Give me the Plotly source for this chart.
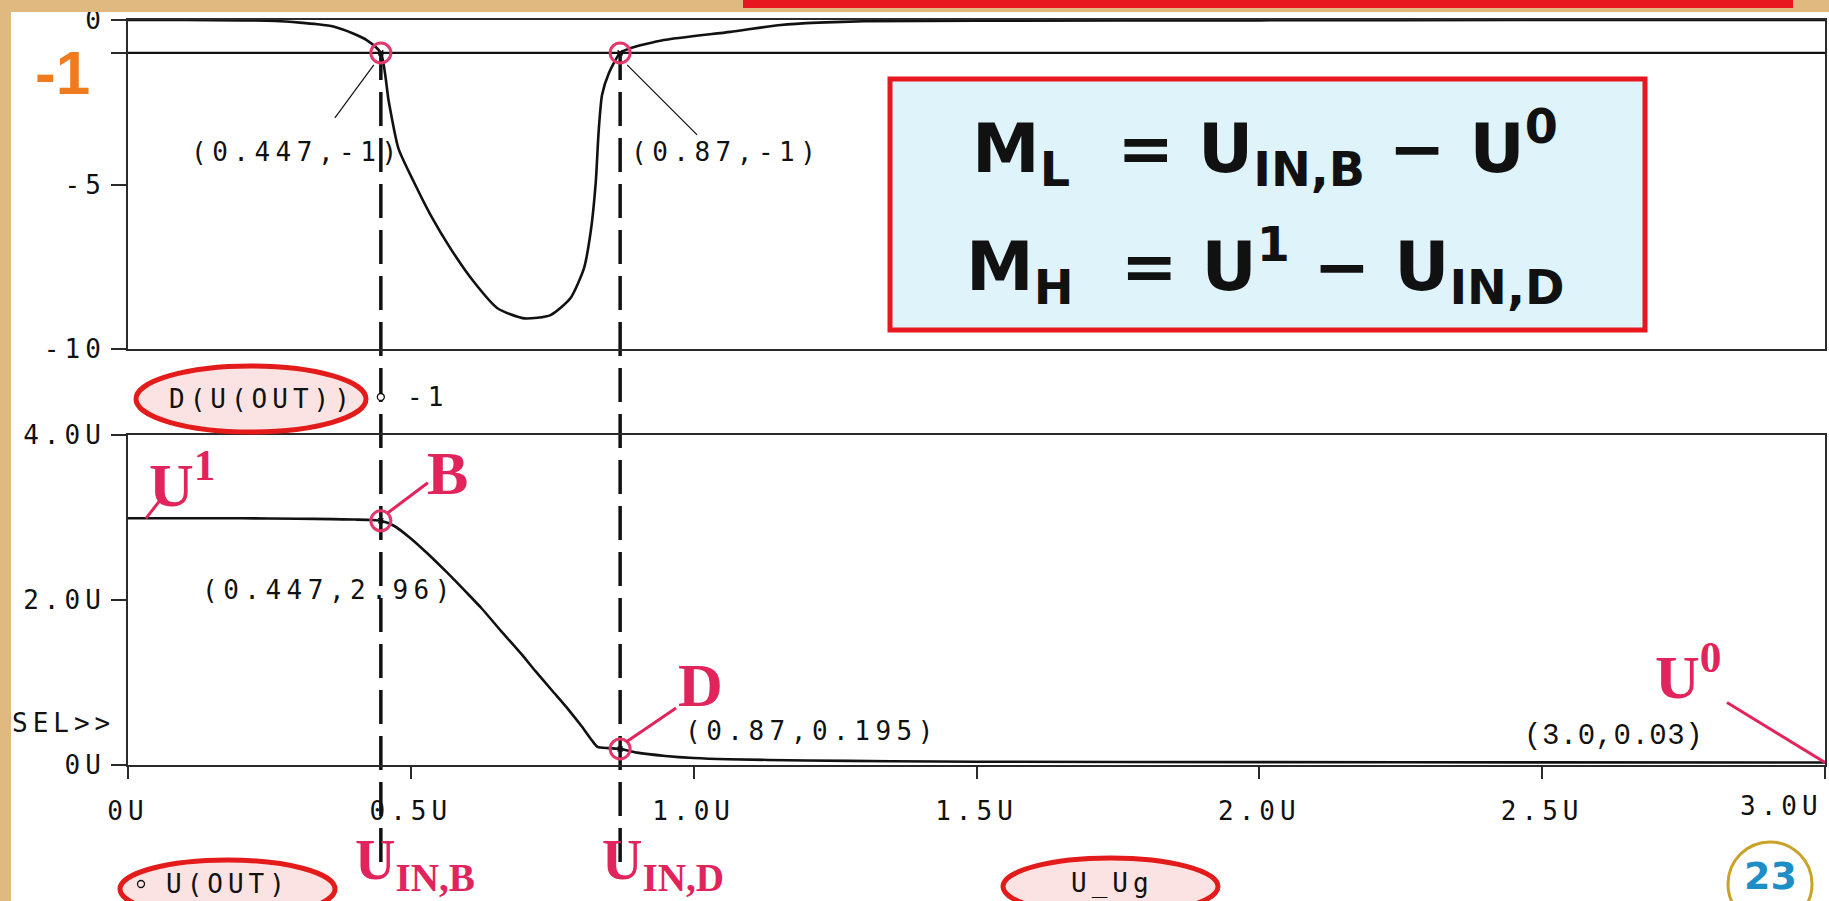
import plotly.graph_objects as go

W, H = 1829, 901

# ---- sweep data: gate voltage V_Vg (V) ----
vg_out = [0, 0.1, 0.2, 0.3, 0.36, 0.4, 0.43, 0.447, 0.47, 0.501, 0.53, 0.563, 0.6, 0.625,
          0.66, 0.696, 0.72, 0.75, 0.78, 0.803, 0.82, 0.83, 0.85, 0.87, 0.9, 0.95, 1.0,
          1.06, 1.2, 1.35, 1.5, 2.0, 2.5, 3.0]
v_out = [2.99, 2.99, 2.99, 2.985, 2.98, 2.975, 2.97, 2.96, 2.90, 2.74, 2.56, 2.34, 2.08, 1.90,
         1.62, 1.34, 1.14, 0.90, 0.66, 0.46, 0.30, 0.22, 0.205, 0.195, 0.15, 0.11, 0.085,
         0.07, 0.055, 0.045, 0.04, 0.035, 0.032, 0.03]

vg_der = [0, 0.1, 0.2, 0.26, 0.304, 0.335, 0.363, 0.398, 0.422, 0.447, 0.461, 0.478, 0.505,
          0.535, 0.570, 0.611, 0.653, 0.700, 0.747, 0.782, 0.806, 0.818, 0.827, 0.832, 0.838,
          0.850, 0.870, 0.888, 0.947, 1.065, 1.154, 1.22, 1.3, 1.5, 2.0, 2.5, 3.0]
dv_out = [0, 0, -0.01, -0.03, -0.08, -0.13, -0.2, -0.41, -0.61, -1.0, -2.48, -3.9, -4.91,
          -5.93, -6.94, -7.95, -8.76, -9.07, -8.97, -8.46, -7.55, -6.43, -4.91, -3.39, -2.28,
          -1.62, -1.0, -0.86, -0.61, -0.36, -0.15, -0.08, -0.04, -0.02, -0.01, 0, 0]

ref_level = -1                      # constant trace "-1"
cursor_x = [0.447, 0.87]            # U_IN,B and U_IN,D
cursor_dv = [-1, -1]
cursor_v = [2.96, 0.195]
end_point = [3.0, 0.03]             # U0

x_ticks = [0, 0.5, 1.0, 1.5, 2.0, 2.5, 3.0]
x_tick_text = ['0U', '0.5U', '1.0U', '1.5U', '2.0U', '2.5U', '3.0U']
top_ticks = [0, -1, -5, -10]
top_tick_text = ['0', '', '-5', '-10']
bot_ticks = [0, 2, 4]
bot_tick_text = ['0U', '2.0U', '4.0U']

# ---- styling ----
INK = '#111111'
CRIMSON = '#E1245C'
MARK_RED = '#E2386C'
BOX_RED = '#E8161E'
TAN = '#DFB97F'
ELL_FILL = '#FCE3E3'
ELL_LINE = '#E41B1B'
FORMULA_BG = '#DEF4FA'
MONO = 'DejaVu Sans Mono'
SERIF = 'Liberation Serif'
MONO_SIZE = 26


def px(x):
    return x / W


def py(y):
    return 1 - y / H


def ps(s, sp=5, size=MONO_SIZE):
    # PSpice-style widely spaced monospace text
    return f'<span style="letter-spacing:{sp}px;font-size:{size}px">{s}</span>'


def num(v):
    return f'{v:g}'


X_DOM = [px(128), px(1825)]
TOP_DOM = [py(349), py(20)]
BOT_DOM = [py(765), py(435)]
TOP_RANGE = [-10, 0]
BOT_RANGE = [0, 4]

fig = go.Figure()

curve_line = dict(color=INK, width=2.6, shape='spline', smoothing=0.6)

# D(V(OUT)) and the -1 reference line
fig.add_trace(go.Scatter(x=vg_der, y=dv_out, xaxis='x', yaxis='y', mode='lines',
                         line=curve_line, hoverinfo='skip'))
fig.add_trace(go.Scatter(x=[x_ticks[0], x_ticks[-1]], y=[ref_level, ref_level],
                         xaxis='x', yaxis='y', mode='lines',
                         line=dict(color=INK, width=2.2), hoverinfo='skip'))
# V(OUT)
fig.add_trace(go.Scatter(x=vg_out, y=v_out, xaxis='x2', yaxis='y2', mode='lines',
                         line=curve_line, hoverinfo='skip'))

# cursor markers
for xa, ya, yv in (('x', 'y', cursor_dv), ('x2', 'y2', cursor_v)):
    fig.add_trace(go.Scatter(x=cursor_x, y=yv, xaxis=xa, yaxis=ya, mode='markers',
                             marker=dict(symbol='circle-open', size=20, color=MARK_RED,
                                         line=dict(width=3, color=MARK_RED)),
                             hoverinfo='skip'))
    fig.add_trace(go.Scatter(x=cursor_x, y=yv, xaxis=xa, yaxis=ya, mode='markers',
                             marker=dict(symbol='x-thin-open', size=5, color=INK,
                                         line=dict(width=1.5, color=INK)),
                             hoverinfo='skip'))

shapes = []
annotations = []

# dashed cursor lines from the -1 crossing down below the axis
y_minus1 = TOP_DOM[0] + (TOP_DOM[1] - TOP_DOM[0]) * (ref_level - TOP_RANGE[0]) / (TOP_RANGE[1] - TOP_RANGE[0])
for cx in cursor_x:
    shapes.append(dict(type='line', xref='x2', yref='paper', x0=cx, x1=cx,
                       y0=py(862), y1=y_minus1, layer='below',
                       line=dict(color=INK, width=3.5, dash='34px,12px')))


def leader(xref, yref, ax, ay, p0, p1, color, width):
    shapes.append(dict(type='line', xref=xref, yref=yref, xsizemode='pixel', ysizemode='pixel',
                       xanchor=ax, yanchor=ay, x0=p0[0], y0=p0[1], x1=p1[0], y1=p1[1],
                       line=dict(color=color, width=width)))


def coord_label(xref, yref, x, y, text, dx, dy, family=MONO, size=MONO_SIZE, sp=5.5):
    annotations.append(dict(xref=xref, yref=yref, x=x, y=y, xshift=dx, yshift=dy,
                            text=ps(text, sp, size), showarrow=False, xanchor='center',
                            yanchor='middle', font=dict(family=family, size=size, color=INK)))


# cursor readouts
coord_label('x', 'y', cursor_x[0], cursor_dv[0], f'({num(cursor_x[0])},{num(cursor_dv[0])})', -84, -99)
coord_label('x', 'y', cursor_x[1], cursor_dv[1], f'({num(cursor_x[1])},{num(cursor_dv[1])})', 106, -99)
coord_label('x2', 'y2', cursor_x[0], cursor_v[0], f'({num(cursor_x[0])},{num(cursor_v[0])})', -52, -69)
coord_label('x2', 'y2', cursor_x[1], cursor_v[1], f'({num(cursor_x[1])},{num(cursor_v[1])})', 192, 18)
coord_label('x2', 'y2', end_point[0], end_point[1], f'({end_point[0]:.1f},{num(end_point[1])})',
            -212, 26, family='Liberation Mono', size=29, sp=0.5)

leader('x', 'y', cursor_x[0], cursor_dv[0], (-7, -12), (-46, -65), INK, 1.2)
leader('x', 'y', cursor_x[1], cursor_dv[1], (7, -12), (77, -82), INK, 1.2)


# red point names
def red_text(xref, yref, x, y, text, dx, dy, size=62, xanchor='center'):
    annotations.append(dict(xref=xref, yref=yref, x=x, y=y, xshift=dx, yshift=dy,
                            text=f'<b>{text}</b>', showarrow=False, xanchor=xanchor, yanchor='middle',
                            font=dict(family=SERIF, size=size, color=CRIMSON)))


red_text('x2', 'y2', cursor_x[0], cursor_v[0], 'B', 67, 48)
red_text('x2', 'y2', cursor_x[1], cursor_v[1], 'D', 80, 64)
red_text('x2', 'y2', vg_out[0], v_out[0], 'U<sup>1</sup>', 19, 38, xanchor='left')
red_text('x2', 'y2', end_point[0], end_point[1], 'U<sup>0</sup>', -172, 91, xanchor='left')
leader('x2', 'y2', cursor_x[0], cursor_v[0], (7, 8), (47, 38), CRIMSON, 3)
leader('x2', 'y2', cursor_x[1], cursor_v[1], (6, 7), (56, 41), CRIMSON, 3)
leader('x2', 'y2', vg_out[0], v_out[0], (18, 0), (32, 18), CRIMSON, 3)
leader('x2', 'y2', end_point[0], end_point[1], (-98, 60), (0, 0), CRIMSON, 3)

for cx, name, dx in ((cursor_x[0], 'U<sub>IN,B</sub>', -28), (cursor_x[1], 'U<sub>IN,D</sub>', -20)):
    annotations.append(dict(xref='x2', yref='paper', x=cx, y=py(864), xshift=dx,
                            text=f'<b>{name}</b>', showarrow=False, xanchor='left', yanchor='middle',
                            font=dict(family=SERIF, size=56, color=CRIMSON)))


# trace name ellipses
def ellipse(x0, x1, y0, y1):
    shapes.append(dict(type='circle', xref='paper', yref='paper', x0=px(x0), x1=px(x1),
                       y0=py(y1), y1=py(y0), fillcolor=ELL_FILL, line=dict(color=ELL_LINE, width=5),
                       layer='above'))


def mono_text(x, y, text, xanchor='center', xref='paper'):
    annotations.append(dict(xref=xref, yref='paper', x=px(x) if xref == 'paper' else x, y=py(y),
                            text=ps(text), showarrow=False, xanchor=xanchor, yanchor='middle',
                            font=dict(family=MONO, size=MONO_SIZE, color=INK)))


def dot(x, y, r=3.5):
    shapes.append(dict(type='circle', xref='paper', yref='paper', x0=px(x - r), x1=px(x + r),
                       y0=py(y + r), y1=py(y - r), line=dict(color=INK, width=1.3), layer='above'))


ellipse(136, 366, 366, 432)
mono_text(262, 399, 'D(U(OUT))')
annotations.append(dict(xref='x2', yref='paper', x=cursor_x[0], y=py(397), xshift=47,
                        text=ps(num(ref_level)), showarrow=False, xanchor='center', yanchor='middle',
                        font=dict(family=MONO, size=MONO_SIZE, color=INK)))
shapes.append(dict(type='circle', xref='x2', yref='paper', xsizemode='pixel', xanchor=cursor_x[0],
                   x0=-3.5, x1=3.5, y0=py(400.5), y1=py(393.5), fillcolor='white',
                   line=dict(color=INK, width=1.3), layer='above'))

ellipse(120, 335, 860, 918)
dot(141, 884)
mono_text(228, 884, 'U(OUT)')
ellipse(1003, 1218, 858, 915)
mono_text(1112, 883, 'U_Ug')
mono_text(117, 723, 'SEL&gt;&gt;', xanchor='right')

# 3.0 tick label kept inside the page edge
mono_text(x_ticks[-1], 806, x_tick_text[-1], xanchor='right', xref='x2')

# noise margin formulas
shapes.append(dict(type='rect', xref='paper', yref='paper', x0=px(890), x1=px(1645),
                   y0=py(330), y1=py(79), fillcolor=FORMULA_BG,
                   line=dict(color=BOX_RED, width=5), layer='above'))
for yy, txt in ((148, 'M<sub>L</sub>&nbsp; = U<sub>IN,B</sub> \u2212 U<sup>0</sup>'),
                (266, 'M<sub>H</sub>&nbsp; = U<sup>1</sup> \u2212 U<sub>IN,D</sub>')):
    annotations.append(dict(xref='paper', yref='paper', x=px(1265), y=py(yy), text=f'<b>{txt}</b>',
                            showarrow=False, xanchor='center', yanchor='middle',
                            font=dict(family='DejaVu Sans', size=68, color='#111111')))

# orange -1 marker for the threshold level
annotations.append(dict(xref='paper', yref='paper', x=px(62), y=py(72), text='<b>-1</b>',
                        showarrow=False, xanchor='center', yanchor='middle',
                        font=dict(family='Liberation Sans', size=62, color='#F07A1E')))

# slide frame
shapes.append(dict(type='rect', xref='paper', yref='paper', x0=0, x1=1, y0=py(12), y1=1,
                   fillcolor=TAN, line=dict(width=0), layer='above'))
shapes.append(dict(type='rect', xref='paper', yref='paper', x0=0, x1=px(11), y0=0, y1=1,
                   fillcolor=TAN, line=dict(width=0), layer='above'))
shapes.append(dict(type='rect', xref='paper', yref='paper', x0=px(743), x1=px(1793), y0=py(8), y1=1,
                   fillcolor=BOX_RED, line=dict(width=0), layer='above'))

# slide number
shapes.append(dict(type='circle', xref='paper', yref='paper', x0=px(1728), x1=px(1812),
                   y0=py(926), y1=py(842), fillcolor='rgba(0,0,0,0)',
                   line=dict(color='#C9A227', width=3), layer='above'))
annotations.append(dict(xref='paper', yref='paper', x=px(1770), y=py(876), text='<b>23</b>',
                        showarrow=False, xanchor='center', yanchor='middle',
                        font=dict(family='DejaVu Sans', size=38, color='#1E8EC6')))

tick_font = dict(family=MONO, size=MONO_SIZE, color=INK)
axis_common = dict(showline=True, mirror=True, linecolor='#2a2a2a', linewidth=2,
                   showgrid=False, zeroline=False, automargin=False)

x_text = [ps(t) for t in x_tick_text[:-1]] + ['']

fig.update_layout(
    width=W, height=H, margin=dict(l=0, r=0, t=0, b=0),
    paper_bgcolor='white', plot_bgcolor='rgba(0,0,0,0)', showlegend=False,
    xaxis=dict(domain=X_DOM, anchor='y', range=[x_ticks[0], x_ticks[-1]], showticklabels=False,
               ticks='', **axis_common),
    yaxis=dict(domain=TOP_DOM, anchor='x', range=TOP_RANGE, tickmode='array', tickvals=top_ticks,
               ticktext=[ps(t) for t in top_tick_text], ticks='outside', ticklen=15, tickwidth=2,
               tickcolor='#2a2a2a', tickfont=tick_font, **axis_common),
    xaxis2=dict(domain=X_DOM, anchor='y2', range=[x_ticks[0], x_ticks[-1]], tickmode='array',
                tickvals=x_ticks, ticktext=x_text, ticks='outside', ticklen=12, tickwidth=2,
                tickcolor='#2a2a2a', tickfont=tick_font, ticklabelstandoff=10, **axis_common),
    yaxis2=dict(domain=BOT_DOM, anchor='x2', range=BOT_RANGE, tickmode='array', tickvals=bot_ticks,
                ticktext=[ps(t) for t in bot_tick_text], ticks='outside', ticklen=15, tickwidth=2,
                tickcolor='#2a2a2a', tickfont=tick_font, **axis_common),
    shapes=shapes,
    annotations=annotations,
)

fig.write_html('out.html', config={'displayModeBar': False})
